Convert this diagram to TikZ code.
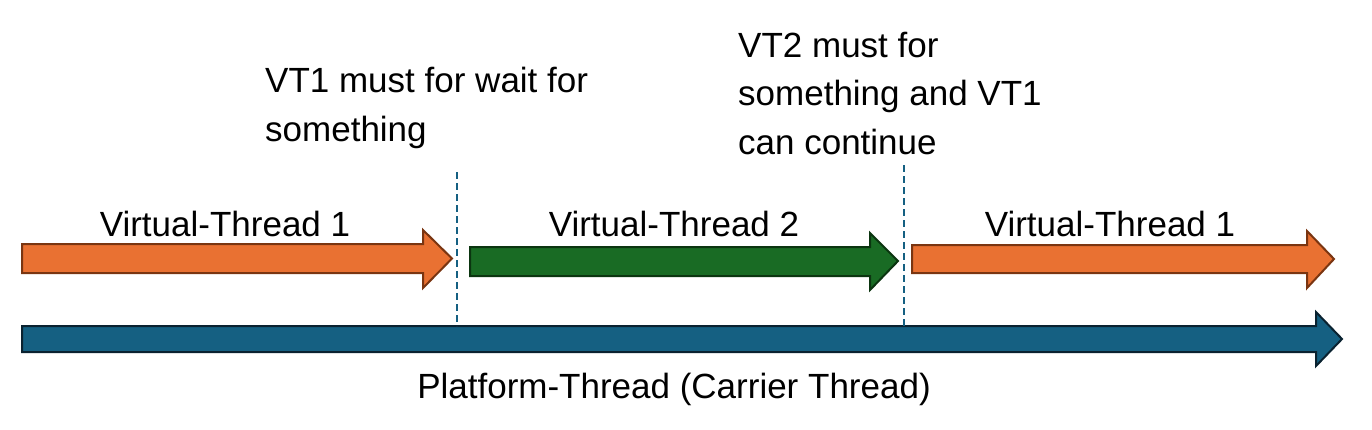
\documentclass[tikz,border=0pt]{standalone}
\usepackage{fontspec}
\setmainfont{Liberation Sans}
\usepackage{tikz}
\definecolor{vtorange}{HTML}{E97132}
\definecolor{vtorangeline}{HTML}{7A3511}
\definecolor{vtgreen}{HTML}{196B24}
\definecolor{vtgreenline}{HTML}{0B3510}
\definecolor{ptblue}{HTML}{156082}
\definecolor{ptblueline}{HTML}{0A2230}

\begin{document}
\begin{tikzpicture}[x=1pt,y=-1pt,
  vtone/.style={fill=vtorange,draw=vtorangeline,line width=2pt,line join=miter},
  vttwo/.style={fill=vtgreen,draw=vtgreenline,line width=2pt,line join=miter},
  ptline/.style={fill=ptblue,draw=ptblueline,line width=2pt,line join=miter},
  switch/.style={draw=ptblue,line width=1.8pt,dash pattern=on 7pt off 4pt},
  lbl/.style={inner sep=0pt,font=\fontsize{35}{48.5}\selectfont}]

\useasboundingbox (0,0) rectangle (1372,429);

%VT_1
\draw[vtone] (22,244) -- (423,244) -- (423,230) -- (452,258.5) -- (423,288) -- (423,273) -- (22,273) -- cycle;
%VT_2
\draw[vttwo] (470,247) -- (870,247) -- (870,233) -- (898,261) -- (870,290) -- (870,276) -- (470,276) -- cycle;
%VT_1 again
\draw[vtone] (912,245) -- (1307,245) -- (1307,231) -- (1334,259) -- (1307,288) -- (1307,273) -- (912,273) -- cycle;
%PT
\draw[ptline] (22,326) -- (1316,326) -- (1316,312) -- (1342,339) -- (1316,366) -- (1316,352) -- (22,352) -- cycle;

%switches
\coordinate (sw1top) at (457,172);\coordinate (sw1bot) at (457,326);
\coordinate (sw2top) at (904,165);\coordinate (sw2bot) at (904,326);
\draw[switch] (sw1top) -- (sw1bot);
\draw[switch] (sw2top) -- (sw2bot);

%labels
\node[lbl,anchor=base] (vt1a) at (225,236) {Virtual-Thread 1};
\node[lbl,anchor=base] (vt2) at (674,236) {Virtual-Thread 2};
\node[lbl,anchor=base] (vt1b) at (1110,236) {Virtual-Thread 1};
\node[lbl,anchor=base] (pt) at (674,398) {Platform-Thread (Carrier Thread)};
\node[lbl,anchor=base west,align=left] (wait1) at (265,141) {VT1 must for wait for\\something};
\node[lbl,anchor=base west,align=left] (wait2) at (738,154) {VT2 must for\\something and VT1\\can continue};

\end{tikzpicture}
\end{document}
